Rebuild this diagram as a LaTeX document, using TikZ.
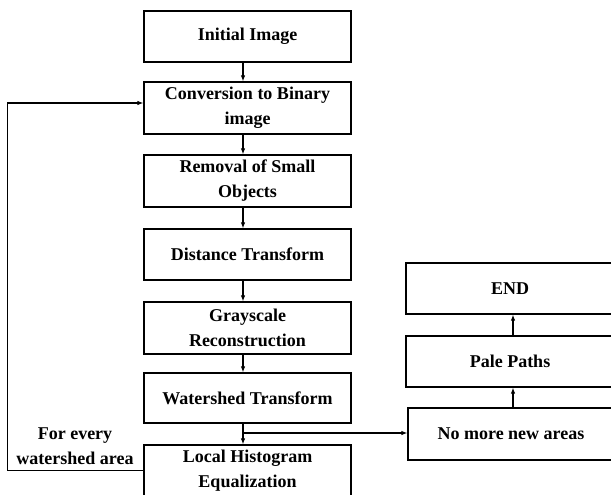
\documentclass[tikz,border=0pt]{standalone}
\usepackage{fontspec}
\setmainfont{Liberation Serif}
\usetikzlibrary{arrows.meta}
\tikzset{
  stepbox/.style={draw, line width=1.2pt, minimum width=207pt, minimum height=51pt, inner sep=0pt, align=center, font=\fontsize{18}{25}\selectfont\bfseries},
  conn/.style={line width=1.6pt, -{Latex[length=6pt,width=4.5pt]}},
  lbl/.style={align=center, font=\fontsize{18}{25}\selectfont\bfseries}
}
\begin{document}
\begin{tikzpicture}[x=1pt,y=-1pt]
\clip (0,0) rectangle (611,495);
\useasboundingbox (0,0) rectangle (611,495);
\node[stepbox] (b1) at (247.5,36.5) {Initial Image};
\node[stepbox, minimum height=52pt] (b2) at (247.5,108) {Conversion to Binary\\image};
\node[stepbox, minimum height=52pt] (b3) at (247.5,181) {Removal of Small\\Objects};
\node[stepbox] (b4) at (247.5,254.5) {Distance Transform};
\node[stepbox, minimum height=52pt] (b5) at (247.5,328) {Grayscale\\Reconstruction};
\node[stepbox, minimum height=50pt] (b6) at (247.5,398) {Watershed Transform};
\node[stepbox] (b7) at (247.5,470.5) {Local Histogram\\Equalization};
\node[stepbox, minimum width=208pt] (e1) at (510,288.5) {END};
\node[stepbox, minimum width=208pt] (e2) at (510,361.5) {Pale Paths};
\node[stepbox, minimum width=206pt, minimum height=52pt] (e3) at (511,434) {No more new areas};
\coordinate (ax) at (243,0);
\coordinate (rx) at (513,0);
\coordinate (br) at (243,433);
\draw[conn] (b1.south -| ax) -- (b2.north -| ax);
\draw[conn] (b2.south -| ax) -- (b3.north -| ax);
\draw[conn] (b3.south -| ax) -- (b4.north -| ax);
\draw[conn] (b4.south -| ax) -- (b5.north -| ax);
\draw[conn] (b5.south -| ax) -- (b6.north -| ax);
\draw[conn] (b6.south -| ax) -- (b7.north -| ax);
\draw[conn] (br) -- (br -| e3.west);
\draw[conn] (e3.north -| rx) -- (e2.south -| rx);
\draw[conn] (e2.north -| rx) -- (e1.south -| rx);
\draw[conn] (b7.west) -- ++(-136,0) |- ([yshift=5pt]b2.west);
\node[lbl] (fl) at (75,446) {For every\\watershed area};
\end{tikzpicture}
\end{document}
